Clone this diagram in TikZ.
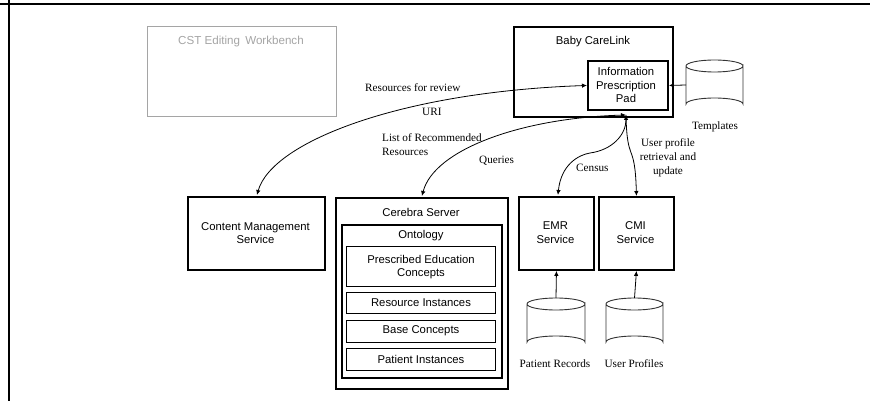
\documentclass[tikz,border=0pt]{standalone}
\usepackage{fontspec}
\setmainfont{Liberation Serif}
\setsansfont{Liberation Sans}
\usetikzlibrary{arrows.meta}
\definecolor{wbgray}{RGB}{165,165,165}
\tikzset{
  x=1pt,y=-1pt,
  thick box/.style={draw=black,line width=1.9pt,rectangle,inner sep=0pt,fill=white},
  thin box/.style={draw=black,line width=1.1pt,rectangle,inner sep=0pt,fill=white},
  lab/.style={font=\sffamily\fontsize{11.3}{13.4}\selectfont,align=center,inner sep=0pt,text=black},
  note/.style={font=\rmfamily\fontsize{11.2}{14}\selectfont,align=left,inner sep=0pt,anchor=west,text=black},
  conn/.style={draw=black,line width=0.8pt,-{Latex[length=5pt,width=4.5pt]}},
  conn both/.style={draw=black,line width=0.8pt,{Latex[length=5pt,width=4.5pt]}-{Latex[length=5pt,width=4.5pt]}},
}
\newcommand{\cylat}[5]{% name x1 y1 x2 y2
  \coordinate (#1) at ({(#2+#4)/2},{(#3+#5)/2});
  \coordinate (#1top) at ({(#2+#4)/2},#3);
  \coordinate (#1left) at (#2,{(#3+#5)/2});
  \draw[line width=0.9pt,black!80,fill=white] (#2,#3+6) -- (#2,#5-6) arc[x radius={(#4-#2)/2},y radius=6,start angle=180,end angle=360] -- (#4,#3+6) arc[x radius={(#4-#2)/2},y radius=6,start angle=0,end angle=180] arc[x radius={(#4-#2)/2},y radius=6,start angle=180,end angle=360];
}
\begin{document}
\begin{tikzpicture}
\useasboundingbox (0,0) rectangle (870,401);
\fill[white] (0,0) rectangle (870,401);
\coordinate (fa) at (9,0); \coordinate (fb) at (9,401); \coordinate (fc) at (0,4); \coordinate (fd) at (870,4);
\draw[line width=2pt] (fa) -- (fb);
\draw[line width=2pt] (fc) -- (fd);
% CST
\node[draw=wbgray,line width=1.1pt,rectangle,inner sep=0pt,minimum width=189pt,minimum height=90pt,anchor=north west] (cst) at (147,26) {};
\node[lab,text=wbgray,font=\sffamily\fontsize{11.6}{13.4}\selectfont] (cstl) at (241,42) {CST Editing\, Workbench};
% Baby CareLink
\node[thick box,minimum width=159pt,minimum height=90pt,anchor=north west] (bcl) at (513,26) {};
\node[lab] (bcll) at (593,41.5) {Baby CareLink};
\node[thick box,minimum width=80pt,minimum height=49pt,anchor=north west] (ipp) at (587,60) {};
\node[lab] (ippl) at (626,85) {Information\\Prescription\\Pad};
% Content
\node[thick box,minimum width=137pt,minimum height=73pt,anchor=north west] (cms) at (187,196) {};
\node[lab] (cmsl) at (255.5,233) {Content Management\\Service};
% Cerebra
\node[thick box,minimum width=172pt,minimum height=191pt,anchor=north west] (cer) at (335,197) {};
\node[lab] (cerl) at (421,212) {Cerebra Server};
\node[thick box,minimum width=160pt,minimum height=153pt,anchor=north west] (ont) at (341,224) {};
\node[lab] (ontl) at (421,236) {Ontology};
\node[thin box,minimum width=149pt,minimum height=40pt,anchor=north west] (pec) at (346,246) {};
\node[lab] (pecl) at (421,267) {Prescribed Education\\Concepts};
\node[thin box,minimum width=149pt,minimum height=21pt,anchor=north west] (ri) at (346,292) {};
\node[lab] (ril) at (421,303) {Resource Instances};
\node[thin box,minimum width=149pt,minimum height=22pt,anchor=north west] (bc) at (346,320) {};
\node[lab] (bcl2) at (421,331) {Base Concepts};
\node[thin box,minimum width=149pt,minimum height=22pt,anchor=north west] (pi) at (346,348) {};
\node[lab] (pil) at (421,359) {Patient Instances};
% EMR CMI
\node[thick box,minimum width=75pt,minimum height=73pt,anchor=north west] (emr) at (518,196) {};
\node[lab] (emrl) at (555.5,232.5) {EMR\\Service};
\node[thick box,minimum width=75pt,minimum height=73pt,anchor=north west] (cmi) at (598,196) {};
\node[lab] (cmil) at (635.5,232.5) {CMI\\Service};
% Cylinders
\cylat{tpl}{686}{60}{743}{110}
\cylat{prc}{527}{298}{585}{348}
\cylat{upf}{606}{298}{663}{348}
\node[note,anchor=center] (tpll) at (715,127) {Templates};
\node[note,anchor=center] (prcl) at (555,364) {Patient Records};
\node[note,anchor=center] (upfl) at (634,364) {User Profiles};
% connectors
\draw[conn] (tplleft) -- (ipp.east);
\draw[conn] (prctop) -- (emr.south);
\draw[conn] (upftop) -- (cmi.south);
\coordinate (ippb) at (626,115);
\draw[conn both] (cms.north) ++(0.5,-1) .. controls (272,142) and (400,92) .. (ipp.west);
\draw[conn both] (cer.north) ++(0,-1) .. controls (434,150) and (520,118) .. (ippb);
\draw[conn both] (emr.north) ++(1.5,-1) .. controls (561,165) and (578,155) .. (590,153) .. controls (612,150) and (626,135) .. (ippb);
\draw[conn] (ippb) .. controls (627,165) and (635,140) .. (cmi.north);
% labels
\node[note] (r1) at (365,87.5) {Resources for review};
\node[note] (r2) at (422,112) {URI};
\node[note] (r3) at (382,145) {List of Recommended\\Resources};
\node[note] (r4) at (479,161) {Queries};
\node[note] (r5) at (576,168) {Census};
\node[note,align=center,anchor=center] (r6) at (668,157.5) {User profile\\retrieval and\\update};
\end{tikzpicture}
\end{document}
